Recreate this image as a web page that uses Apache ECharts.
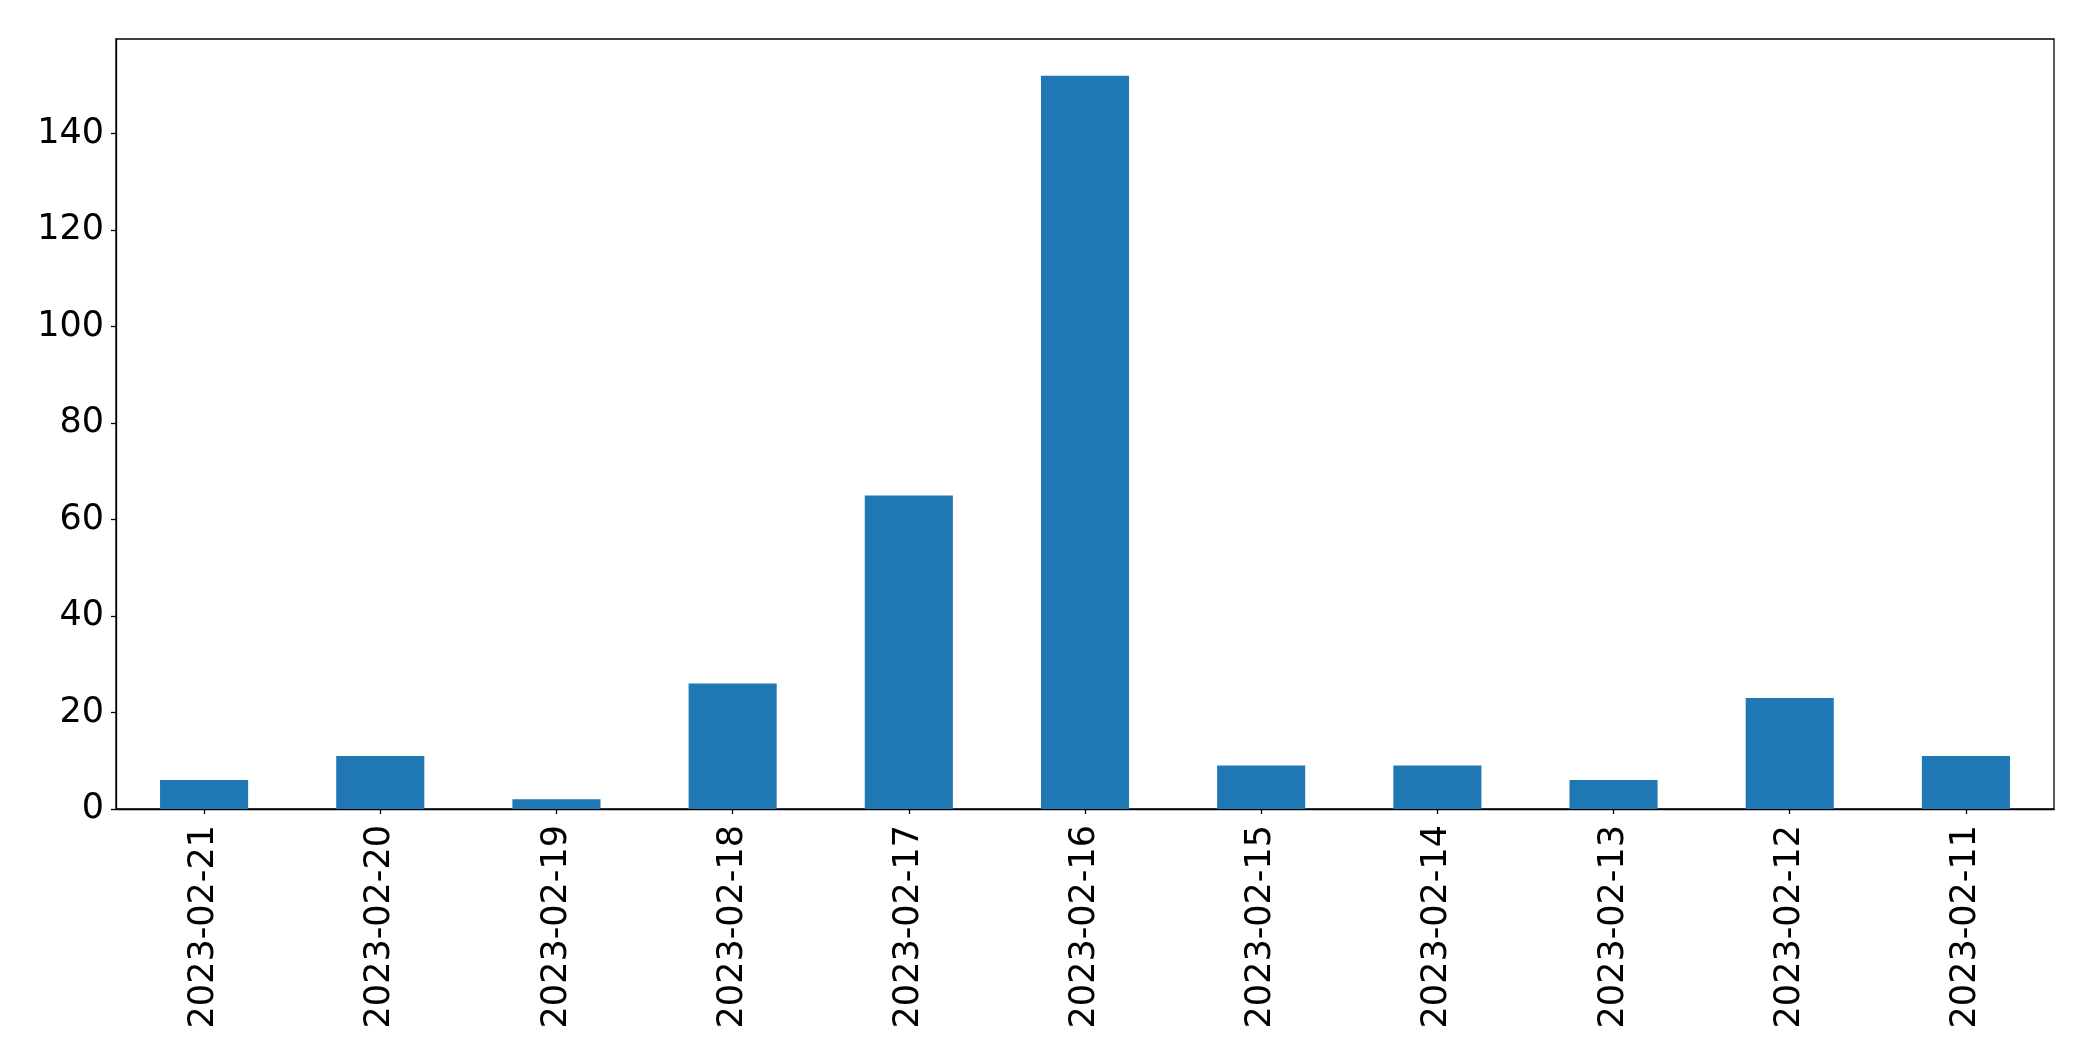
<!DOCTYPE html>
<html>
<head>
<meta charset="utf-8">
<script src="https://cdn.jsdelivr.net/npm/echarts@6/dist/echarts.min.js"></script>
<style>
html,body{margin:0;padding:0;background:#fff;}
#chart{width:2093px;height:1061px;}
</style>
</head>
<body>
<div id="chart"></div>
<script>
const categories = ['2023-02-21','2023-02-20','2023-02-19','2023-02-18','2023-02-17','2023-02-16','2023-02-15','2023-02-14','2023-02-13','2023-02-12','2023-02-11'];
const values = [6, 11, 2, 26, 65, 152, 9, 9, 6, 23, 11];
const yTicks = [0, 20, 40, 60, 80, 100, 120, 140];
const yMax = 159.6;

const chart = echarts.init(document.getElementById('chart'), null, {renderer: 'canvas'});
const font = 'DejaVu Sans';
chart.setOption({
  animation: false,
  backgroundColor: '#ffffff',
  grid: {
    left: 116, top: 39, width: 1938, height: 770,
    show: true, borderColor: '#000', borderWidth: 1.3, backgroundColor: 'transparent',
    containLabel: false
  },
  xAxis: {
    type: 'category',
    data: categories,
    boundaryGap: true,
    axisLine: {show: true, lineStyle: {color: '#000', width: 1.3}},
    axisTick: {show: true, alignWithLabel: true, length: 5, lineStyle: {color: '#000', width: 1.3}},
    axisLabel: {rotate: 90, margin: 16, color: '#000', fontFamily: font, fontSize: 35, interval: 0},
    splitLine: {show: false}
  },
  yAxis: {
    type: 'value',
    min: 0, max: yMax,
    axisLine: {show: true, lineStyle: {color: '#000', width: 1.3}},
    axisTick: {show: true, length: 5, lineStyle: {color: '#000', width: 1.3}, customValues: yTicks},
    axisLabel: {margin: 12, color: '#000', fontFamily: font, fontSize: 35, customValues: yTicks},
    splitLine: {show: false}
  },
  series: [{
    type: 'bar',
    data: values,
    barWidth: '50%',
    itemStyle: {color: '#1f77b4'}
  }]
});
</script>
</body>
</html>
